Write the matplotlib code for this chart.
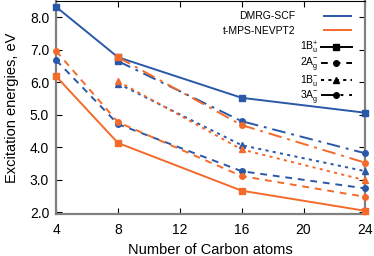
import matplotlib
matplotlib.use("Agg")
import matplotlib.pyplot as plt
from matplotlib.lines import Line2D

plt.rcParams['font.family'] = ['Liberation Sans', 'DejaVu Sans']
plt.rcParams['mathtext.fontset'] = 'custom'
plt.rcParams['mathtext.rm'] = 'Liberation Sans'
plt.rcParams['mathtext.it'] = 'Liberation Sans'

# ---------------- data ----------------
n_all = [4, 8, 16, 24]
n_sub = [8, 16, 24]

dmrg_1bu_plus = [8.32, 6.77, 5.52, 5.06]
nevpt_1bu_plus = [6.18, 4.13, 2.66, 2.04]
dmrg_2ag = [6.68, 4.71, 3.26, 2.73]
nevpt_2ag = [6.96, 4.77, 3.11, 2.47]
dmrg_1bu_minus = [5.96, 4.06, 3.26]
nevpt_1bu_minus = [6.03, 3.93, 2.98]
dmrg_3ag = [6.65, 4.80, 3.81]
nevpt_3ag = [6.77, 4.68, 3.52]

method_labels = ["DMRG-SCF", "t-MPS-NEVPT2"]
state_labels = [r"1B$_{\rm u}^{+}$", r"2A$_{\rm g}^{-}$", r"1B$_{\rm u}^{-}$", r"3A$_{\rm g}^{-}$"]
xticks = [4, 8, 12, 16, 20, 24]
yticks = [2.0, 3.0, 4.0, 5.0, 6.0, 7.0, 8.0]

BLUE = "#2a58a8"
ORANGE = "#f36a2a"

ls_solid = "-"
ls_dash = (0, (3.5, 3))
ls_dot = (0, (1.6, 2.2))
ls_dashdot = (0, (7, 3, 1.5, 3))

fig = plt.figure(figsize=(3.74, 2.56), dpi=100)
ax = fig.add_axes([0.150, 0.165, 0.827, 0.831])

lw = 1.4
ms = 4
for color, s1, s2, s3, s4 in [
    (BLUE, dmrg_1bu_plus, dmrg_2ag, dmrg_1bu_minus, dmrg_3ag),
    (ORANGE, nevpt_1bu_plus, nevpt_2ag, nevpt_1bu_minus, nevpt_3ag),
]:
    ax.plot(n_all, s1, color=color, ls=ls_solid, lw=lw, marker="s", ms=ms, clip_on=False, zorder=3)
    ax.plot(n_all, s2, color=color, ls=ls_dash, lw=lw, marker="o", ms=ms, clip_on=False, zorder=3)
    ax.plot(n_sub, s3, color=color, ls=ls_dot, lw=lw, marker="^", ms=ms, clip_on=False, zorder=3)
    ax.plot(n_sub, s4, color=color, ls=ls_dashdot, lw=lw, marker="o", ms=ms, markevery=[1, 2],
            clip_on=False, zorder=3)
    ax.plot(n_sub[:1], s4[:1], color=color, ls="none", marker="s", ms=ms, clip_on=False, zorder=3)

ax.set_xlim(4, 24)
ax.set_ylim(1.95, 8.5)
ax.set_xticks(xticks)
ax.set_xticklabels([str(t) for t in xticks])
ax.set_yticks(yticks)
ax.set_yticklabels(["%.1f" % t for t in yticks])
ax.tick_params(direction="in", top=True, right=True, length=4, width=0.8, labelsize=10)
ax.tick_params(axis="x", pad=7)
ax.tick_params(axis="y", pad=5)

for side in ["left", "bottom", "right"]:
    ax.spines[side].set_color("#808080")
    ax.spines[side].set_linewidth(1.6)
ax.spines["top"].set_color("black")
ax.spines["top"].set_linewidth(0.8)

ax.set_xlabel("Number of Carbon atoms", fontsize=10.5, labelpad=4)
ax.set_ylabel("Excitation energies, eV", fontsize=10.5, labelpad=8)

h1 = [Line2D([], [], color=BLUE, lw=lw), Line2D([], [], color=ORANGE, lw=lw)]
leg1 = ax.legend(h1, method_labels, loc="upper right", bbox_to_anchor=(0.953, 0.952),
                 frameon=False, markerfirst=False, fontsize=7.5, handlelength=2.6,
                 handletextpad=2.7, labelspacing=0.45, borderpad=0, borderaxespad=0)
ax.add_artist(leg1)

h2 = [Line2D([], [], color="black", ls=ls_solid, lw=lw, marker="s", ms=ms),
      Line2D([], [], color="black", ls=ls_dash, lw=lw, marker="o", ms=ms),
      Line2D([], [], color="black", ls=ls_dot, lw=lw, marker="^", ms=ms),
      Line2D([], [], color="black", ls=ls_dashdot, lw=lw, marker="o", ms=ms)]
leg2 = ax.legend(h2, state_labels, loc="upper right", bbox_to_anchor=(0.956, 0.820),
                 frameon=False, markerfirst=False, fontsize=7.5, handlelength=3.0,
                 handletextpad=0.2, labelspacing=0.0, borderpad=0, borderaxespad=0)

fig.savefig("out.png", dpi=100)
